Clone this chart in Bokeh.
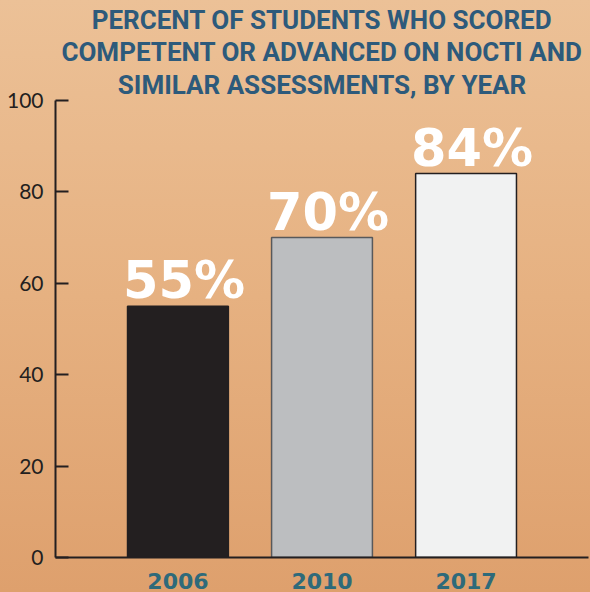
from bokeh.plotting import figure
from bokeh.models import ColumnDataSource, FactorRange, Title
from bokeh.core.properties import value
from bokeh.embed import file_html
from bokeh.resources import INLINE

# ---- data ----
years = ["2006", "2010", "2017"]
percents = [55, 70, 84]
pct_labels = ["55%", "70%", "84%"]
y_ticks = [0, 20, 40, 60, 80, 100]
title_lines = ["PERCENT OF STUDENTS WHO SCORED",
               "COMPETENT OR ADVANCED ON NOCTI AND",
               "SIMILAR ASSESSMENTS, BY YEAR"]

# ---- styles ----
bar_fill = ["#231f20", "#bcbec0", "#f1f2f2"]
bar_line = ["#231f20", "#58595b", "#231f20"]

source = ColumnDataSource(dict(year=years, pct=percents, label=pct_labels,
                               fill=bar_fill, line=bar_line))

p = figure(
    x_range=FactorRange(factors=years, range_padding=0.35, range_padding_units="absolute"),
    y_range=(0, 100),
    width=590, height=592,
    min_border_left=55, min_border_right=2, min_border_bottom=35, min_border_top=100,
    output_backend="svg", toolbar_location=None, title=None,
)

p.styles = {"background": "linear-gradient(to bottom, #ecc197 0%, #e6b181 50%, #dea06d 100%)"}
p.border_fill_color = None
p.background_fill_color = None
p.outline_line_color = None
p.grid.visible = False

# title lines, stacked upward from the frame
for i, line in enumerate(reversed(title_lines)):
    t = Title(text=line, align="center", text_font="Roboto", text_font_style="bold",
              text_font_size="26px", text_color="#2d5a7b", text_line_height=0.8,
              standoff=2 if i == 0 else 0)
    p.add_layout(t, "above")

p.vbar(x="year", top="pct", width=0.7, source=source,
       fill_color="fill", line_color="line", line_width=1.5)

p.text(x="year", y="pct", text="label", source=source,
       x_offset=6, y_offset=4, text_align="center", text_baseline="bottom",
       text_color="white", text_font=value("DejaVu Sans"), text_font_style="bold",
       text_font_size="51px")

# y axis
p.yaxis.ticker = y_ticks
p.yaxis.axis_line_width = 2
p.yaxis.axis_line_color = "#231f20"
p.yaxis.major_tick_in = 13
p.yaxis.major_tick_out = 0
p.yaxis.major_tick_line_width = 2
p.yaxis.major_tick_line_color = "#231f20"
p.yaxis.minor_tick_line_color = None
p.yaxis.major_label_text_font = "Lato"
p.yaxis.major_label_text_font_size = "21px"
p.yaxis.major_label_text_color = "#231f20"
p.yaxis.major_label_standoff = 12

# x axis
p.xaxis.axis_line_width = 2
p.xaxis.axis_line_color = "#231f20"
p.xaxis.major_tick_line_color = None
p.xaxis.major_label_text_font = "DejaVu Sans"
p.xaxis.major_label_text_font_style = "bold"
p.xaxis.major_label_text_font_size = "22px"
p.xaxis.major_label_text_color = "#2e6a7a"
p.xaxis.major_label_standoff = 9

open("out.html", "w").write(file_html(p, INLINE))
